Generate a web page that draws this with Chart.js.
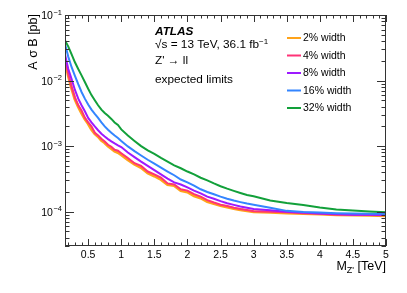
<!DOCTYPE html>
<html>
<head>
<meta charset="utf-8">
<script src="https://cdn.jsdelivr.net/npm/chart.js@4.4.1/dist/chart.umd.min.js"></script>
<style>
  html, body { margin: 0; padding: 0; background: #fff; }
  #wrap { width: 407px; height: 293px; }
</style>
</head>
<body>
<div id="wrap"><canvas id="limitChart"></canvas></div>
<script>
// Z' mass points [TeV]
const massTeV = [0.15, 0.2, 0.25, 0.3, 0.35, 0.4, 0.45, 0.5, 0.55, 0.6, 0.65, 0.7, 0.75, 0.8, 0.85, 0.9, 0.95, 1.0,
  1.1, 1.2, 1.3, 1.4, 1.5, 1.6, 1.7, 1.8, 1.9, 2.0, 2.1, 2.2, 2.3, 2.4, 2.5, 2.6, 2.7, 2.8, 2.9, 3.0,
  3.25, 3.5, 3.75, 4.0, 4.25, 4.5, 4.75, 5.0];

// expected limits on A sigma B [pb], one array per signal width
const width2 = [0.021, 0.0118, 0.0076, 0.0052, 0.0040, 0.0032, 0.0026, 0.0022, 0.0018, 0.00155, 0.0014, 0.00122, 0.00112, 0.0010, 0.00092, 0.00084, 0.0008, 0.00074,
  0.00062, 0.00053, 0.00047, 0.00039, 0.00035, 0.00031, 0.00026, 0.00025, 0.00021, 0.0002, 0.000175, 0.000162, 0.000143, 0.000133, 0.000124, 0.000118, 0.000112, 0.000107, 0.000103, 0.0001,
  0.000098, 0.000096, 0.000094, 0.000092, 0.00009, 0.000089, 0.000088, 0.000087];
const width4 = [0.022, 0.0125, 0.0080, 0.0055, 0.0042, 0.0035, 0.0027, 0.0023, 0.0020, 0.0016, 0.00145, 0.0013, 0.00118, 0.00105, 0.00098, 0.00088, 0.00085, 0.00078,
  0.00066, 0.00055, 0.0005, 0.00041, 0.00037, 0.00033, 0.00027, 0.00026, 0.00022, 0.00021, 0.000185, 0.00017, 0.00015, 0.000138, 0.000128, 0.000122, 0.000115, 0.00011, 0.000106, 0.000102,
  0.0001, 0.000098, 0.000095, 0.000093, 0.00009, 0.00009, 0.000089, 0.000088];
const width8 = [0.025, 0.015, 0.0105, 0.0072, 0.0053, 0.0042, 0.0034, 0.0027, 0.0023, 0.0020, 0.00175, 0.00155, 0.0014, 0.00128, 0.00118, 0.0011, 0.00103, 0.00097,
  0.0008, 0.00068, 0.00058, 0.0005, 0.00043, 0.00037, 0.00032, 0.00028, 0.00026, 0.000235, 0.00021, 0.00019, 0.00017, 0.000158, 0.000145, 0.000135, 0.000127, 0.00012, 0.000115, 0.00011,
  0.000105, 0.0001, 0.000097, 0.000094, 0.000092, 0.00009, 0.00009, 0.000089];
const width16 = [0.036, 0.023, 0.016, 0.0118, 0.0088, 0.0067, 0.0053, 0.0043, 0.0036, 0.0031, 0.0027, 0.0023, 0.002, 0.00178, 0.0016, 0.00145, 0.00133, 0.0012,
  0.00099, 0.00084, 0.00072, 0.00062, 0.00054, 0.00047, 0.00041, 0.00036, 0.00031, 0.00028, 0.00025, 0.00022, 0.0002, 0.000185, 0.00017, 0.000158, 0.000148, 0.00014, 0.000133, 0.000128,
  0.000115, 0.000103, 0.000099, 0.000097, 0.000095, 0.000094, 0.000093, 0.000093];
const width32 = [0.041, 0.033, 0.025, 0.019, 0.015, 0.012, 0.0095, 0.0075, 0.006, 0.005, 0.0042, 0.0036, 0.0032, 0.0029, 0.0026, 0.0023, 0.0021, 0.0018,
  0.00145, 0.0012, 0.001, 0.00086, 0.00076, 0.00066, 0.00058, 0.00051, 0.00046, 0.00041, 0.00037, 0.00033, 0.0003, 0.00027, 0.000245, 0.000225, 0.000208, 0.000193, 0.00018, 0.000172,
  0.000148, 0.000136, 0.000127, 0.000116, 0.000108, 0.000104, 0.000101, 0.000098];

const seriesLabels = ['2% width', '4% width', '8% width', '16% width', '32% width'];
const seriesColors = ['#ffa31a', '#ff3377', '#9d1aff', '#3385ff', '#12a03a'];
const seriesWidths = [3, 2, 2, 2, 2];

const xTickLabels = [0.5, 1, 1.5, 2, 2.5, 3, 3.5, 4, 4.5, 5];
const yDecades = [-1, -2, -3, -4];

const xMin = 0.15, xMax = 5;
const yMin = 3e-5, yMax = 0.1;

const FONT = "'Liberation Sans', Arial, Helvetica, sans-serif";

document.addEventListener('DOMContentLoaded', function () {
    const ctx = document.getElementById('limitChart');
    const allSeries = [width2, width4, width8, width16, width32];

    const datasets = allSeries.map(function (vals, i) {
        return {
            label: seriesLabels[i],
            data: massTeV.map(function (m, j) { return { x: m, y: vals[j] }; }),
            borderColor: seriesColors[i],
            backgroundColor: seriesColors[i],
            borderWidth: seriesWidths[i],
            pointRadius: 0,
            tension: 0,
            fill: false,
            order: allSeries.length - i  // orange underneath, green on top
        };
    });

    // ROOT-like frame, ticks, labels and legend
    const atlasDecor = {
        id: 'atlasDecor',
        afterDatasetsDraw(chart) {
            const c = chart.ctx;
            const area = chart.chartArea;
            const xs = chart.scales.x;
            const ys = chart.scales.y;
            c.save();

            // frame
            c.strokeStyle = '#333';
            c.lineWidth = 1;
            c.strokeRect(area.left + 0.5, area.top + 0.5, area.right - area.left - 1, area.bottom - area.top - 1);

            // x ticks (top + bottom)
            c.beginPath();
            for (let k = 2; k <= 50; k++) {
                const v = k / 10;
                if (v < xMin || v > xMax) continue;
                const px = Math.round(xs.getPixelForValue(v)) + 0.5;
                const len = (k % 5 === 0) ? 7 : 3.5;
                c.moveTo(px, area.bottom); c.lineTo(px, area.bottom - len);
                c.moveTo(px, area.top); c.lineTo(px, area.top + len);
            }
            // y ticks (left + right)
            for (let d = -5; d <= -1; d++) {
                for (let k = 1; k <= 9; k++) {
                    const v = k * Math.pow(10, d);
                    if (v < yMin * 0.999 || v > yMax * 1.001) continue;
                    const py = Math.round(ys.getPixelForValue(v)) + 0.5;
                    const len = (k === 1) ? 9 : 4.5;
                    c.moveTo(area.left, py); c.lineTo(area.left + len, py);
                    c.moveTo(area.right, py); c.lineTo(area.right - len, py);
                }
            }
            c.stroke();

            // x tick labels
            c.fillStyle = '#000';
            c.font = '10.5px ' + FONT;
            c.textAlign = 'center';
            c.textBaseline = 'alphabetic';
            xTickLabels.forEach(function (v) {
                c.fillText(String(v), xs.getPixelForValue(v), area.bottom + 12);
            });

            // y tick labels 10^d
            yDecades.forEach(function (d) {
                const py = ys.getPixelForValue(Math.pow(10, d));
                const right = area.left - 3;
                c.textAlign = 'right';
                c.font = '7.5px ' + FONT;
                const sup = '\u2212' + String(-d);
                c.fillText(sup, right, py - 0.5);
                const w = c.measureText(sup).width;
                c.font = '10.5px ' + FONT;
                c.fillText('10', right - w - 0.5, py + 4);
            });

            // x axis title: M_Z' [TeV]
            c.textAlign = 'right';
            c.font = '12.5px ' + FONT;
            let xr = area.right;
            c.fillText(' [TeV]', xr, area.bottom + 24);
            xr -= c.measureText(' [TeV]').width;
            c.font = '9px ' + FONT;
            c.fillText("Z'", xr, area.bottom + 27);
            xr -= c.measureText("Z'").width;
            c.font = '12.5px ' + FONT;
            c.fillText('M', xr, area.bottom + 24);

            // y axis title
            c.save();
            c.translate(area.left - 28, area.top - 1);
            c.rotate(-Math.PI / 2);
            c.textAlign = 'right';
            c.font = '12.5px ' + FONT;
            c.fillText('A \u03c3 B [pb]', 0, 0);
            c.restore();

            // ATLAS label block
            c.textAlign = 'left';
            c.font = 'italic bold 11.8px ' + FONT;
            c.fillText('ATLAS', 155, 35);
            c.font = '11.8px ' + FONT;
            c.fillText('\u221as = 13 TeV, 36.1 fb', 155, 48);
            const wLumi = c.measureText('\u221as = 13 TeV, 36.1 fb').width;
            c.font = '8px ' + FONT;
            c.fillText('\u22121', 155 + wLumi, 43.5);
            c.font = '11.8px ' + FONT;
            c.fillText("Z' \u2192 ll", 155, 64);
            c.fillText('expected limits', 155, 83);

            // legend
            c.font = '10.5px ' + FONT;
            const rowsY = [38, 55.5, 73, 90.5, 108];
            seriesLabels.forEach(function (lab, i) {
                const y = rowsY[i];
                c.strokeStyle = seriesColors[i];
                c.lineWidth = 2;
                c.beginPath();
                c.moveTo(287, y); c.lineTo(301, y);
                c.stroke();
                c.fillStyle = '#000';
                c.textBaseline = 'middle';
                c.fillText(lab, 303, y + 0.5);
            });

            c.restore();
        }
    };

    new Chart(ctx, {
        type: 'line',
        data: { datasets: datasets },
        options: {
            responsive: true,
            maintainAspectRatio: false,
            animation: false,
            layout: { padding: { left: 65, right: 21, top: 15, bottom: 47 } },
            plugins: {
                legend: { display: false },
                tooltip: { enabled: false }
            },
            scales: {
                x: { type: 'linear', min: xMin, max: xMax, display: false },
                y: { type: 'logarithmic', min: yMin, max: yMax, display: false }
            }
        },
        plugins: [atlasDecor]
    });
});
</script>
</body>
</html>
